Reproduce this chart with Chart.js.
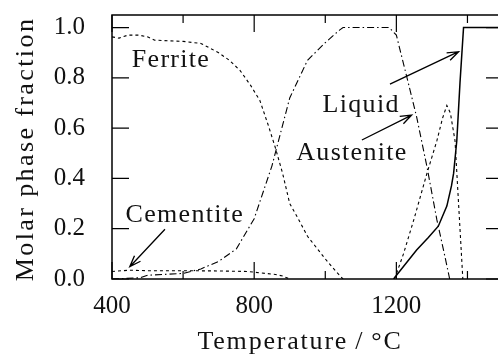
<!DOCTYPE html>
<html>
<head>
<meta charset="utf-8">
<script src="https://cdn.jsdelivr.net/npm/chart.js@4"></script>
<style>
  html, body { margin: 0; padding: 0; background: #fff; overflow: hidden; }
  #wrap { width: 506px; height: 363px; }
</style>
</head>
<body>
<div id="wrap"><canvas id="myChart" width="506" height="363"></canvas></div>
<script>
const ctx = document.getElementById('myChart').getContext('2d');

// temperatures (°C) and molar phase fractions
const ferriteT    = [400, 420, 445, 475, 500, 520, 600, 650, 700, 730, 760, 790, 816, 840, 860, 880, 900, 920, 950, 1000, 1030, 1050];
const ferriteFrac = [0.963, 0.958, 0.97, 0.97, 0.963, 0.95, 0.945, 0.937, 0.9, 0.87, 0.83, 0.77, 0.71, 0.61, 0.52, 0.42, 0.3, 0.25, 0.17, 0.08, 0.03, 0];

const deltaT    = [1195, 1220, 1250, 1286, 1314, 1330, 1342, 1352, 1365, 1375, 1387];
const deltaFrac = [0, 0.1, 0.24, 0.42, 0.55, 0.64, 0.69, 0.66, 0.55, 0.3, 0];

const cementiteT    = [400, 450, 500, 600, 700, 780, 820, 860, 880, 900];
const cementiteFrac = [0.03, 0.035, 0.033, 0.033, 0.032, 0.03, 0.024, 0.018, 0.012, 0];

const austeniteT    = [400, 480, 500, 600, 650, 700, 750, 800, 850, 900, 950, 1000, 1040, 1050, 1180, 1200, 1230, 1257, 1286, 1314, 1335, 1350];
const austeniteFrac = [0, 0.005, 0.015, 0.022, 0.04, 0.07, 0.12, 0.24, 0.45, 0.72, 0.87, 0.94, 0.99, 1.0, 1.0, 0.97, 0.8, 0.645, 0.447, 0.235, 0.1, 0];

const liquidT    = [1192, 1220, 1257, 1290, 1318, 1342, 1355, 1361, 1370, 1379, 1389, 1500];
const liquidFrac = [0, 0.05, 0.115, 0.165, 0.21, 0.29, 0.37, 0.42, 0.55, 0.78, 1.0, 1.0];

const xLabels = [400, 800, 1200];
const xTickMarks = [400, 600, 800, 1000, 1200, 1400];
const yLabels = [0, 0.2, 0.4, 0.6, 0.8, 1.0];

// labels: text, T, fraction (text baseline centre)
const labelNames = ['Ferrite', 'Liquid', 'Austenite', 'Cementite'];
const labelT     = [566, 1101, 1075, 605];
const labelFrac  = [0.845, 0.665, 0.475, 0.225];

// arrows: from (T, frac) to (T, frac)
const arrowFromT = [1182, 1103, 549];
const arrowFromF = [0.775, 0.553, 0.198];
const arrowToT   = [1375, 1243, 450];
const arrowToF   = [0.904, 0.652, 0.049];

const xTitle = 'Temperature\u2009/\u2009°C';
const yTitle = 'Molar phase fraction';

const FONT = '"Liberation Serif", "DejaVu Serif", serif';

function pts(xs, ys) {
    return xs.map((x, i) => ({x: x, y: ys[i]}));
}

const frame = {
    id: 'frame',
    afterDraw(chart) {
        const c = chart.ctx;
        const a = chart.chartArea;
        const xs = chart.scales.x;
        const ys = chart.scales.y;
        c.save();
        c.strokeStyle = '#000';
        c.lineWidth = 1.5;
        c.strokeRect(a.left, a.top, a.right - a.left, a.bottom - a.top);
        // inward ticks
        c.lineWidth = 1.2;
        c.beginPath();
        xTickMarks.forEach(v => {
            const px = xs.getPixelForValue(v);
            const len = xLabels.includes(v) ? 17 : 8;
            c.moveTo(px, a.bottom); c.lineTo(px, a.bottom - len);
            c.moveTo(px, a.top); c.lineTo(px, a.top + len);
        });
        yLabels.forEach(v => {
            const py = ys.getPixelForValue(v);
            c.moveTo(a.left, py); c.lineTo(a.left + 17, py);
            c.moveTo(a.right, py); c.lineTo(a.right - 17, py);
        });
        c.stroke();

        // phase labels
        c.fillStyle = '#111';
        c.font = '26px ' + FONT;
        c.letterSpacing = '1.3px';
        c.textAlign = 'center';
        c.textBaseline = 'alphabetic';
        labelNames.forEach((t, i) => {
            c.fillText(t, xs.getPixelForValue(labelT[i]), ys.getPixelForValue(labelFrac[i]));
        });

        // axis titles
        c.letterSpacing = '1.8px';
        c.fillText(xTitle, 300, 349);
        c.save();
        c.letterSpacing = '2.4px';
        c.translate(33, (a.top + a.bottom) / 2 + 2);
        c.rotate(-Math.PI / 2);
        c.fillText(yTitle, 0, 0);
        c.restore();

        // arrows
        c.lineWidth = 1.3;
        arrowFromT.forEach((t, i) => {
            const x0 = xs.getPixelForValue(t), y0 = ys.getPixelForValue(arrowFromF[i]);
            const x1 = xs.getPixelForValue(arrowToT[i]), y1 = ys.getPixelForValue(arrowToF[i]);
            const ang = Math.atan2(y1 - y0, x1 - x0);
            c.beginPath();
            c.moveTo(x0, y0); c.lineTo(x1, y1);
            c.moveTo(x1 - 12 * Math.cos(ang - 0.35), y1 - 12 * Math.sin(ang - 0.35));
            c.lineTo(x1, y1);
            c.lineTo(x1 - 12 * Math.cos(ang + 0.35), y1 - 12 * Math.sin(ang + 0.35));
            c.stroke();
        });
        c.restore();
    }
};

const dotted = [3, 3];
const dashDot = [7, 3, 1.5, 3];

const myChart = new Chart(ctx, {
    type: 'line',
    data: {
        datasets: [
            { data: pts(ferriteT, ferriteFrac), borderDash: dotted },
            { data: pts(deltaT, deltaFrac), borderDash: dotted },
            { data: pts(cementiteT, cementiteFrac), borderDash: dotted },
            { data: pts(austeniteT, austeniteFrac), borderDash: dashDot },
            { data: pts(liquidT, liquidFrac), borderWidth: 1.5 }
        ].map(d => Object.assign({
            borderColor: '#000',
            borderWidth: 1.1,
            pointRadius: 0,
            tension: 0,
            fill: false
        }, d))
    },
    options: {
        responsive: false,
        animation: false,
        layout: { padding: { top: 15, right: 3, left: 0, bottom: 0 } },
        plugins: {
            legend: { display: false },
            tooltip: { enabled: false }
        },
        scales: {
            x: {
                type: 'linear',
                min: 400,
                max: 1500,
                grid: { display: false, drawTicks: false },
                border: { display: false },
                afterBuildTicks: s => { s.ticks = xLabels.map(v => ({value: v})); },
                afterFit: s => { s.height = 84; s.paddingLeft = 0; s.paddingRight = 0; },
                ticks: {
                    padding: 12,
                    color: '#111',
                    font: { family: FONT, size: 25 },
                    maxRotation: 0,
                    callback: v => String(v)
                }
            },
            y: {
                min: 0,
                max: 1.05,
                grid: { display: false, drawTicks: false },
                border: { display: false },
                afterBuildTicks: s => { s.ticks = yLabels.map(v => ({value: v})); },
                afterFit: s => { s.width = 112; s.paddingTop = 0; s.paddingBottom = 0; },
                ticks: {
                    padding: 27,
                    color: '#111',
                    font: { family: FONT, size: 25 },
                    callback: v => v.toFixed(1)
                }
            }
        }
    },
    plugins: [frame]
});
</script>
</body>
</html>
